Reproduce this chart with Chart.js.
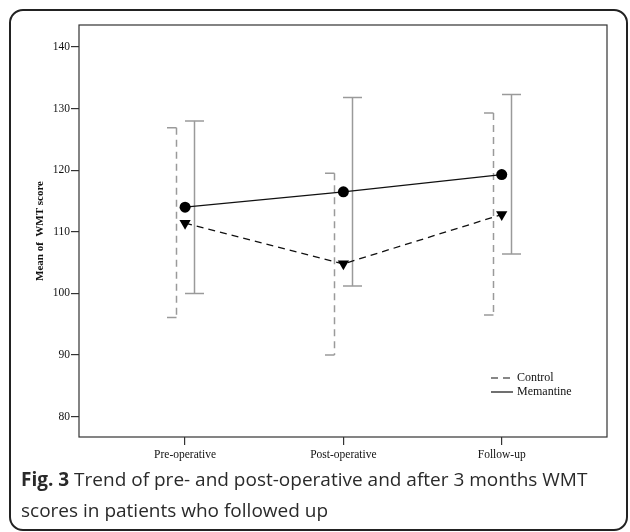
<!DOCTYPE html>
<html>
<head>
<meta charset="utf-8">
<script src="https://cdn.jsdelivr.net/npm/chart.js@4/dist/chart.umd.min.js"></script>
<style>
body{margin:0;background:#fff;width:630px;height:532px;position:relative;overflow:hidden;}
#frame{position:absolute;left:9px;top:9px;width:615px;height:518px;border:2px solid #222;border-radius:14px;}
#wrap{position:absolute;left:0;top:0;width:630px;height:470px;}
#caption{position:absolute;left:21px;top:464px;font-family:"Open Sans";font-size:19px;line-height:31px;color:#2a2a2a;white-space:nowrap;}
</style>
</head>
<body>
<div id="frame"></div>
<div id="wrap"><canvas id="graph" width="630" height="470"></canvas></div>
<div id="caption"><b>Fig. 3</b> Trend of pre- and post-operative and after 3 months WMT<br>scores in patients who followed up</div>
<script>
// データ
var categories      = ["Pre-operative", "Post-operative", "Follow-up"];
var control_mean    = [111.4, 104.8, 112.8];
var control_low     = [96.1, 90.0, 96.5];
var control_high    = [126.9, 119.5, 129.3];
var memantine_mean  = [114.0, 116.5, 119.3];
var memantine_low   = [100.0, 101.2, 106.4];
var memantine_high  = [128.0, 131.8, 132.3];
var y_ticks         = [80, 90, 100, 110, 120, 130, 140];

var SERIF = "'Liberation Serif', 'Times New Roman', serif";

function to_points(arr){
    return arr.map(function(v, i){ return {x: i, y: v}; });
}

//エラーバー(信頼区間)を描く。Controlは左、Memantineは右にずらす
var errorbar_plugin = {
    id: "errorbars",
    beforeDatasetsDraw: function(chart){
        let ctx = chart.ctx;
        let xs  = chart.scales.x;
        let ys  = chart.scales.y;
        let bars = [
            {low: control_low,   high: control_high,   shift: -9, dash: [7, 5], cap: "left"},
            {low: memantine_low, high: memantine_high, shift:  9, dash: [],     cap: "both"}
        ];
        ctx.save();
        ctx.strokeStyle = "#9a9a9a";
        ctx.lineWidth   = 1.5;
        bars.forEach(function(b){
            for (let i=0;i<categories.length;i++){
                let x  = Math.round(xs.getPixelForValue(i) + b.shift) + 0.5;
                let y1 = ys.getPixelForValue(b.high[i]);
                let y2 = ys.getPixelForValue(b.low[i]);
                ctx.setLineDash(b.dash);
                ctx.beginPath();
                ctx.moveTo(x, y1);
                ctx.lineTo(x, y2);
                ctx.stroke();
                ctx.setLineDash([]);
                let cl = x - 9.5;
                let cr = b.cap === "left" ? x : x + 9.5;
                ctx.beginPath();
                ctx.moveTo(cl, y1); ctx.lineTo(cr, y1);
                ctx.moveTo(cl, y2); ctx.lineTo(cr, y2);
                ctx.stroke();
            }
        });
        ctx.restore();
    },
    afterDraw: function(chart){
        let ctx  = chart.ctx;
        let area = chart.chartArea;
        ctx.save();
        //プロット枠
        ctx.strokeStyle = "#333";
        ctx.lineWidth   = 1.2;
        ctx.strokeRect(area.left, area.top, area.right - area.left, area.bottom - area.top);

        //凡例
        ctx.font         = "12px " + SERIF;
        ctx.fillStyle    = "#111";
        ctx.textBaseline = "middle";
        ctx.lineWidth    = 1.2;
        ctx.strokeStyle  = "#111";
        chart.data.datasets.forEach(function(ds, k){
            let y  = area.bottom - 59 + k * 14;
            let x0 = area.right - 116;
            ctx.setLineDash(ds.borderDash || []);
            ctx.beginPath();
            ctx.moveTo(x0, y);
            ctx.lineTo(x0 + 22, y);
            ctx.stroke();
            ctx.setLineDash([]);
            ctx.fillText(ds.label, x0 + 26, y);
        });
        ctx.restore();
    }
};

window.addEventListener("load", function(){

    let data = {
        datasets: [
            {
                label: "Control",
                data: to_points(control_mean),
                borderColor: "#111",
                backgroundColor: "#000",
                borderWidth: 1.3,
                borderDash: [7, 5],
                pointStyle: "triangle",
                rotation: 180,
                pointRadius: 6.5,
                pointBorderWidth: 0,
                pointBackgroundColor: "#000"
            },
            {
                label: "Memantine",
                data: to_points(memantine_mean),
                borderColor: "#111",
                backgroundColor: "#000",
                borderWidth: 1.3,
                pointStyle: "circle",
                pointRadius: 5.5,
                pointBorderWidth: 0,
                pointBackgroundColor: "#000"
            }
        ]
    };

    let options = {
        responsive: false,
        animation: false,
        devicePixelRatio: 1,
        layout: { padding: { top: 25, right: 23, left: 0, bottom: 0 } },
        plugins: { legend: { display: false }, tooltip: { enabled: false } },
        scales: {
            x: {
                type: "linear",
                min: -0.67,
                max: 2.665,
                afterBuildTicks: function(scale){
                    scale.ticks = categories.map(function(c, i){ return {value: i}; });
                },
                afterFit: function(scale){ scale.height = 33; },
                ticks: {
                    callback: function(v){ return categories[v]; },
                    font: { family: SERIF, size: 11.5 },
                    color: "#111",
                    padding: 3,
                    maxRotation: 0
                },
                grid: { drawOnChartArea: false, tickLength: 8, color: "#333", lineWidth: 1.2 },
                border: { display: false }
            },
            y: {
                min: 76.7,
                max: 143.57,
                afterBuildTicks: function(scale){
                    scale.ticks = y_ticks.map(function(v){ return {value: v}; });
                },
                afterFit: function(scale){ scale.width = 79; },
                ticks: {
                    font: { family: SERIF, size: 11.5 },
                    color: "#111",
                    padding: 1
                },
                grid: { drawOnChartArea: false, tickLength: 8, color: "#333", lineWidth: 1.2 },
                border: { display: false },
                title: {
                    display: true,
                    text: "Mean of  WMT score",
                    font: { family: SERIF, size: 11, weight: "bold" },
                    color: "#111",
                    padding: { top: 34, bottom: 0 }
                }
            }
        }
    };

    new Chart(document.getElementById("graph"), {
        type: "line",
        data: data,
        options: options,
        plugins: [errorbar_plugin]
    });
});
</script>
</body>
</html>
